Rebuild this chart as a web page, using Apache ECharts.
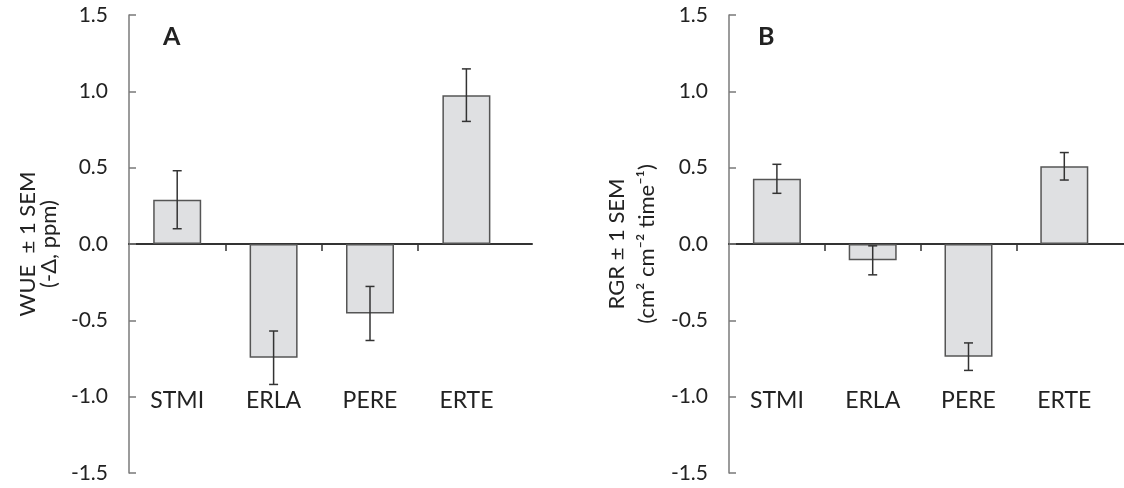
<!DOCTYPE html>
<html>
<head>
<meta charset="utf-8">
<script src="https://cdn.jsdelivr.net/npm/echarts@6/dist/echarts.min.js"></script>
<style>
  html, body { margin: 0; padding: 0; background: #fff; }
  #chart { width: 1124px; height: 488px; }
</style>
</head>
<body>
<div id="chart"></div>
<script>
// data
var categories = ['STMI', 'ERLA', 'PERE', 'ERTE'];
var wueMean = [0.29, -0.745, -0.455, 0.975];
var wueSem = [0.19, 0.175, 0.177, 0.172];
var rgrMean = [0.427, -0.107, -0.738, 0.509];
var rgrSem = [0.095, 0.095, 0.09, 0.09];
var yMin = -1.5, yMax = 1.5, yStep = 0.5;

var FONT = 'Lato';
var catPos = categories.map(function (c, i) { return i + 1; });

function barData(mean) {
    return mean.map(function (v, i) { return [catPos[i], v]; });
}
function errData(mean, sem) {
    return mean.map(function (v, i) { return [catPos[i], v, sem[i]]; });
}

// 误差线
function renderErr(params, api) {
    var x = api.value(0), m = api.value(1), s = api.value(2);
    var top = api.coord([x, m + s]);
    var bot = api.coord([x, m - s]);
    var w = 4.5;
    var style = { stroke: '#333', lineWidth: 1.5 };
    return {
        type: 'group',
        children: [
            { type: 'line', shape: { x1: top[0], y1: top[1], x2: bot[0], y2: bot[1] }, style: style },
            { type: 'line', shape: { x1: top[0] - w, y1: top[1], x2: top[0] + w, y2: top[1] }, style: style },
            { type: 'line', shape: { x1: bot[0] - w, y1: bot[1], x2: bot[0] + w, y2: bot[1] }, style: style }
        ]
    };
}

function xAxisFor(gridIndex, max) {
    return {
        type: 'value',
        gridIndex: gridIndex,
        min: 0.5,
        max: max,
        splitLine: { show: false },
        axisLine: { show: true, onZero: true, lineStyle: { color: '#333', width: 2 } },
        axisTick: {
            show: true, inside: false, length: 7,
            customValues: [1.5, 2.5, 3.5],
            lineStyle: { color: '#333', width: 1.5 }
        },
        axisLabel: {
            show: true, margin: -84,
            customValues: catPos,
            formatter: function (v) { return categories[Math.round(v) - 1]; },
            color: '#222', fontSize: 23, fontFamily: FONT
        }
    };
}

function yAxisFor(gridIndex, name, gap, lh) {
    return {
        type: 'value',
        gridIndex: gridIndex,
        min: yMin, max: yMax, interval: yStep,
        splitLine: { show: false },
        axisLine: { show: true, onZero: false, lineStyle: { color: '#7a7a7a', width: 1.5 } },
        axisTick: { show: true, inside: true, length: 7, lineStyle: { color: '#7a7a7a', width: 1.5 } },
        axisLabel: {
            margin: 21, color: '#222', fontSize: 21, fontFamily: FONT,
            formatter: function (v) { return v.toFixed(1); }
        },
        name: name,
        nameLocation: 'middle',
        nameRotate: 90,
        nameGap: gap,
        nameTextStyle: { color: '#222', fontSize: 22, fontFamily: FONT, lineHeight: lh, align: 'center' }
    };
}

var chart = echarts.init(document.getElementById('chart'));
var option = {
    animation: false,
    title: [
        { text: 'A', left: 158, top: 19, textStyle: { fontSize: 25, fontWeight: 'bold', color: '#222', fontFamily: FONT } },
        { text: 'B', left: 753, top: 19, textStyle: { fontSize: 25, fontWeight: 'bold', color: '#222', fontFamily: FONT } }
    ],
    grid: [
        { left: 129, top: 15, width: 403, height: 458, outerBoundsMode: 'none' },
        { left: 729, top: 15, width: 395, height: 458, outerBoundsMode: 'none' }
    ],
    xAxis: [xAxisFor(0, 0.5 + 403 / 96.4), xAxisFor(1, 0.5 + 395 / 95.8)],
    yAxis: [
        yAxisFor(0, 'WUE  \u00b1 1 SEM\n(-\u0394, ppm)', 70, 21),
        yAxisFor(1, 'RGR \u00b1 1 SEM\n(cm\u00b2 cm\u207b\u00b2 time\u207b\u00b9)', 67, 30)
    ],
    series: [
        {
            type: 'bar', xAxisIndex: 0, yAxisIndex: 0, barWidth: 48,
            data: barData(wueMean),
            itemStyle: { color: '#dfe0e2', borderColor: '#555', borderWidth: 1.5 }
        },
        { type: 'custom', xAxisIndex: 0, yAxisIndex: 0, renderItem: renderErr, data: errData(wueMean, wueSem), z: 5 },
        {
            type: 'bar', xAxisIndex: 1, yAxisIndex: 1, barWidth: 48,
            data: barData(rgrMean),
            itemStyle: { color: '#dfe0e2', borderColor: '#555', borderWidth: 1.5 }
        },
        { type: 'custom', xAxisIndex: 1, yAxisIndex: 1, renderItem: renderErr, data: errData(rgrMean, rgrSem), z: 5 }
    ]
};
chart.setOption(option);
</script>
</body>
</html>
